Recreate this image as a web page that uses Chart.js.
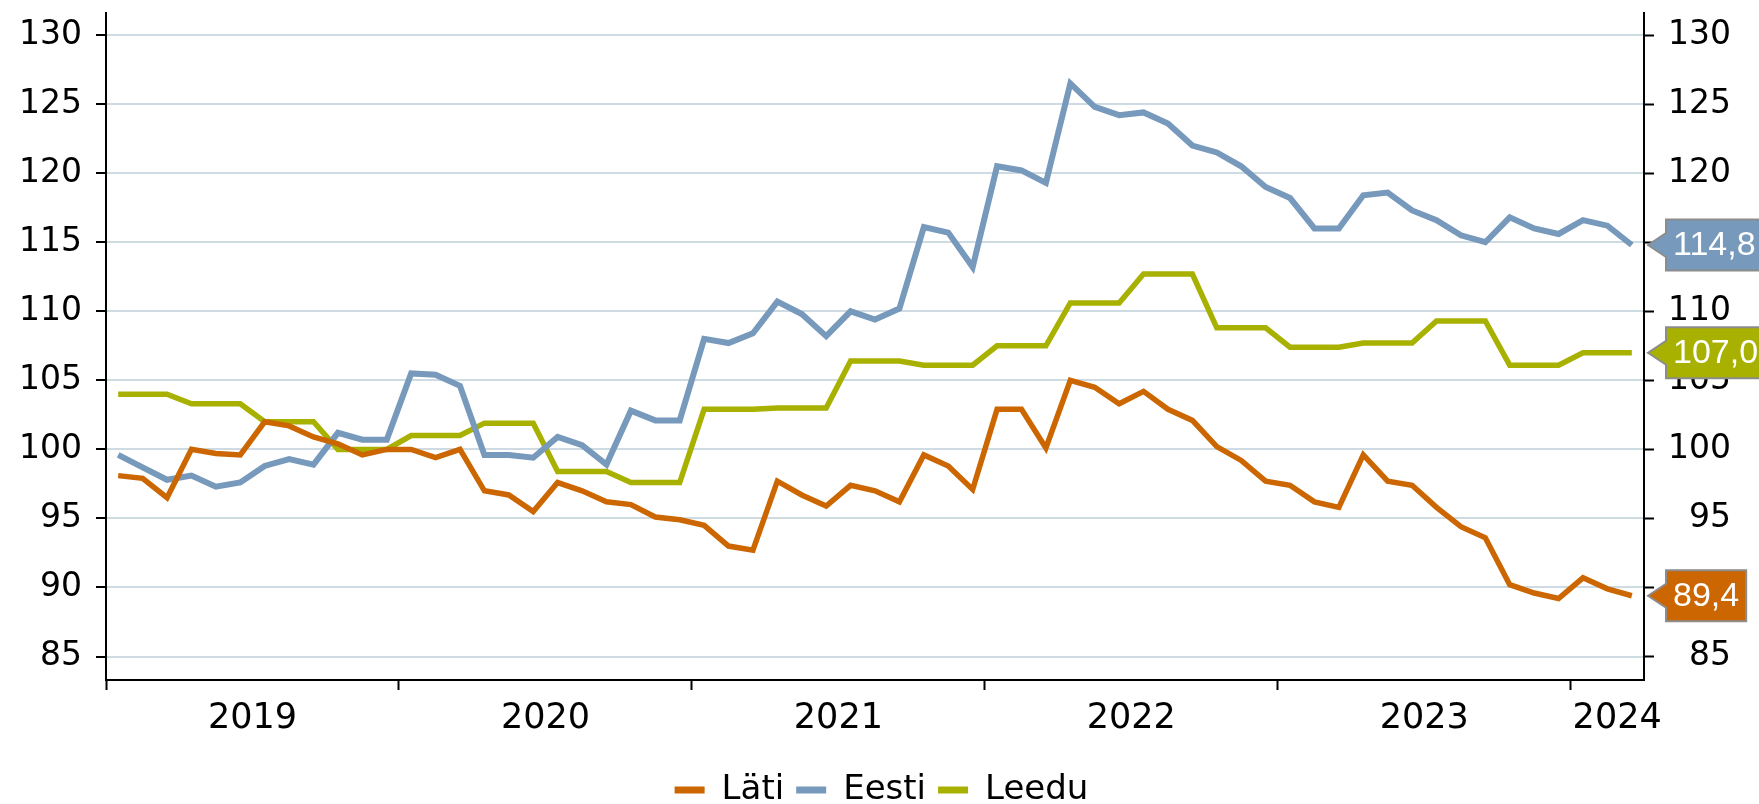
<!DOCTYPE html>
<html>
<head>
<meta charset="utf-8">
<script src="https://cdn.jsdelivr.net/npm/chart.js@4.4.1/dist/chart.umd.min.js"></script>
<style>
  html, body { margin: 0; padding: 0; background: #fff; }
  #wrap { width: 1759px; height: 804px; }
</style>
</head>
<body>
<div id="wrap"><canvas id="myChart"></canvas></div>
<script>
// Kuud (jaanuar 2019 - märts 2024)
const months = [
  '2019-01','2019-02','2019-03','2019-04','2019-05','2019-06','2019-07','2019-08','2019-09','2019-10','2019-11','2019-12',
  '2020-01','2020-02','2020-03','2020-04','2020-05','2020-06','2020-07','2020-08','2020-09','2020-10','2020-11','2020-12',
  '2021-01','2021-02','2021-03','2021-04','2021-05','2021-06','2021-07','2021-08','2021-09','2021-10','2021-11','2021-12',
  '2022-01','2022-02','2022-03','2022-04','2022-05','2022-06','2022-07','2022-08','2022-09','2022-10','2022-11','2022-12',
  '2023-01','2023-02','2023-03','2023-04','2023-05','2023-06','2023-07','2023-08','2023-09','2023-10','2023-11','2023-12',
  '2024-01','2024-02','2024-03'
];

const lati = [
  98.1, 97.9, 96.5, 100.0, 99.7, 99.6, 102.0, 101.7, 100.9, 100.4, 99.6, 100.0,
  100.0, 99.4, 100.0, 97.0, 96.7, 95.5, 97.6, 97.0, 96.2, 96.0, 95.1, 94.9,
  94.5, 93.0, 92.7, 97.7, 96.7, 95.9, 97.4, 97.0, 96.2, 99.6, 98.8, 97.1,
  102.9, 102.9, 100.1, 105.0, 104.5, 103.3, 104.2, 102.9, 102.1, 100.2, 99.2, 97.7,
  97.4, 96.2, 95.8, 99.6, 97.7, 97.4, 95.8, 94.4, 93.6, 90.2, 89.6, 89.2,
  90.7, 89.9, 89.4
];

const eesti = [
  99.6, 98.7, 97.8, 98.1, 97.3, 97.6, 98.8, 99.3, 98.9, 101.2, 100.7, 100.7,
  105.5, 105.4, 104.6, 99.6, 99.6, 99.4, 100.9, 100.3, 98.9, 102.8, 102.1, 102.1,
  108.0, 107.7, 108.4, 110.7, 109.8, 108.2, 110.0, 109.4, 110.2, 116.1, 115.7, 113.2,
  120.5, 120.2, 119.3, 126.5, 124.8, 124.2, 124.4, 123.6, 122.0, 121.5, 120.5, 119.0,
  118.2, 116.0, 116.0, 118.4, 118.6, 117.3, 116.6, 115.5, 115.0, 116.8, 116.0, 115.6,
  116.6, 116.2, 114.8
];

const leedu = [
  104.0, 104.0, 104.0, 103.3, 103.3, 103.3, 102.0, 102.0, 102.0, 100.0, 100.0, 100.0,
  101.0, 101.0, 101.0, 101.9, 101.9, 101.9, 98.4, 98.4, 98.4, 97.6, 97.6, 97.6,
  102.9, 102.9, 102.9, 103.0, 103.0, 103.0, 106.4, 106.4, 106.4, 106.1, 106.1, 106.1,
  107.5, 107.5, 107.5, 110.6, 110.6, 110.6, 112.7, 112.7, 112.7, 108.8, 108.8, 108.8,
  107.4, 107.4, 107.4, 107.7, 107.7, 107.7, 109.3, 109.3, 109.3, 106.1, 106.1, 106.1,
  107.0, 107.0, 107.0
];

const yearLabels = ['2019', '2020', '2021', '2022', '2023', '2024'];
const yTicks = [85, 90, 95, 100, 105, 110, 115, 120, 125, 130];

const colors = { lati: '#cc6600', eesti: '#7799bb', leedu: '#a8b000' };

// punktid kuu keskele
const toPoints = arr => arr.map((v, i) => ({ x: i + 0.5, y: v }));

// aasta algused ja sildi kohad (viimane osaline aasta veidi paremale)
const yearStarts = yearLabels.map(y => months.findIndex(m => m.startsWith(y)));
const yearCenters = yearLabels.map((y, i) => {
  const end = i + 1 < yearStarts.length ? yearStarts[i + 1] : months.length + 0.8;
  return (yearStarts[i] + end) / 2;
});

Chart.defaults.font.family = '"DejaVu Sans", Verdana, sans-serif';
Chart.defaults.font.size = 33;
Chart.defaults.color = '#000';

const tickFont = { size: 33, lineHeight: 0.75 };
const yearFont = { size: 35, lineHeight: 0.75 };

// viimase väärtuse sildid paremal teljel
const lastValueTags = {
  id: 'lastValueTags',
  afterDraw(chart) {
    const ctx = chart.ctx;
    const yScale = chart.scales.y;
    const right = chart.chartArea.right;
    ctx.save();
    ctx.font = '34px "Liberation Sans", Arial, sans-serif';
    chart.data.datasets.forEach(ds => {
      const last = ds.data[ds.data.length - 1].y;
      const y = yScale.getPixelForValue(last);
      const text = last.toFixed(1).replace('.', ',');
      const w = ctx.measureText(text).width + 14;
      const tip = right + 4, bx = right + 22, h = 51;
      ctx.beginPath();
      ctx.moveTo(tip, y);
      ctx.lineTo(bx, y - 12);
      ctx.lineTo(bx, y - h / 2);
      ctx.lineTo(bx + w, y - h / 2);
      ctx.lineTo(bx + w, y + h / 2);
      ctx.lineTo(bx, y + h / 2);
      ctx.lineTo(bx, y + 12);
      ctx.closePath();
      ctx.fillStyle = ds.borderColor;
      ctx.fill();
      ctx.lineWidth = 2;
      ctx.strokeStyle = '#8c8c8c';
      ctx.stroke();
      ctx.fillStyle = '#fff';
      ctx.textAlign = 'left';
      ctx.textBaseline = 'middle';
      ctx.fillText(text, bx + 7, y + 1);
    });
    ctx.restore();
  }
};

// y-telgede ülemine/alumine lisaruum maha
const noVertPad = s => { s.paddingTop = 0; s.paddingBottom = 0; };

const ctx = document.getElementById('myChart').getContext('2d');

const myChart = new Chart(ctx, {
  type: 'line',
  data: {
    datasets: [
      { label: 'Läti', data: toPoints(lati), borderColor: colors.lati, backgroundColor: colors.lati, borderWidth: 5.5 },
      { label: 'Eesti', data: toPoints(eesti), borderColor: colors.eesti, backgroundColor: colors.eesti, borderWidth: 6 },
      { label: 'Leedu', data: toPoints(leedu), borderColor: colors.leedu, backgroundColor: colors.leedu, borderWidth: 5.5 }
    ]
  },
  options: {
    responsive: true,
    maintainAspectRatio: false,
    animation: false,
    layout: { padding: { left: 18, right: 14, top: 13, bottom: -13 } },
    elements: { point: { radius: 0 }, line: { tension: 0 } },
    plugins: {
      tooltip: { enabled: false },
      legend: {
        position: 'bottom',
        labels: {
          font: { size: 34 },
          color: '#000',
          boxWidth: 30,
          boxHeight: 7,
          padding: 12,
          generateLabels: chart => Chart.defaults.plugins.legend.labels.generateLabels(chart)
            .map(l => ({ ...l, lineWidth: 0, fillStyle: l.strokeStyle }))
        }
      }
    },
    scales: {
      x: {
        type: 'linear',
        position: 'bottom',
        min: 0,
        max: months.length,
        afterBuildTicks: s => { s.ticks = yearStarts.map(v => ({ value: v })); },
        ticks: { display: false },
        grid: { drawOnChartArea: false, tickLength: 10, tickWidth: 2, tickColor: '#000' },
        border: { color: '#000', width: 2 }
      },
      xYears: {
        type: 'linear',
        position: 'bottom',
        min: 0,
        max: months.length,
        afterBuildTicks: s => { s.ticks = yearCenters.map(v => ({ value: v })); },
        afterFit: s => { s.height = 71; },
        ticks: { callback: (v, i) => yearLabels[i], font: yearFont, padding: 8, maxRotation: 0, autoSkip: false },
        grid: { display: false },
        border: { display: false }
      },
      y: {
        position: 'left',
        min: 83.3,
        max: 131.6,
        afterBuildTicks: s => { s.ticks = yTicks.map(v => ({ value: v })); },
        afterFit: s => { noVertPad(s); s.width = 88; },
        ticks: { font: tickFont, padding: 14 },
        grid: { color: '#cfdbe3', lineWidth: 2, tickLength: 10, tickWidth: 2, tickColor: '#000' },
        border: { color: '#000', width: 2 }
      },
      y2: {
        position: 'right',
        min: 83.3,
        max: 131.6,
        afterBuildTicks: s => { s.ticks = yTicks.map(v => ({ value: v })); },
        afterFit: noVertPad,
        // paremal joondatud sildid (numbritühikuga)
        ticks: { font: tickFont, padding: 14, callback: v => String(v).padStart(3, '\u2007') },
        grid: { drawOnChartArea: false, tickLength: 10, tickWidth: 2, tickColor: '#000' },
        border: { color: '#000', width: 2 }
      }
    }
  },
  plugins: [lastValueTags]
});
</script>
</body>
</html>
